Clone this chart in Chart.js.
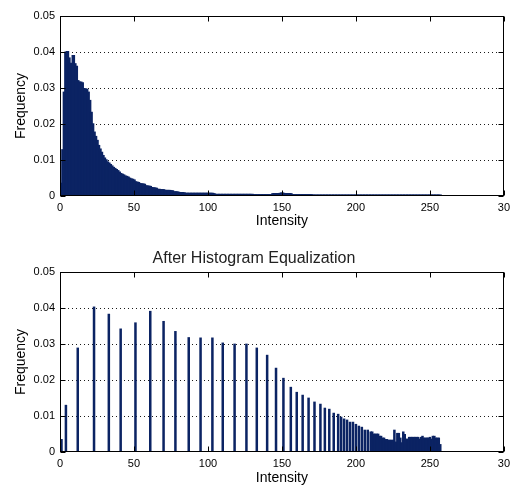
<!DOCTYPE html>
<html>
<head>
<meta charset="utf-8">
<script src="https://cdn.jsdelivr.net/npm/chart.js@4/dist/chart.umd.min.js"></script>
<style>
  html, body { margin: 0; padding: 0; background: #fff; overflow: hidden; }
  #wrap { position: relative; width: 515px; height: 485px; overflow: hidden; }
  canvas { position: absolute; left: 0; }
  #top { top: 0; }
  #bottom { top: 240px; }
</style>
</head>
<body>
<div id="wrap">
  <canvas id="top" width="515" height="240"></canvas>
  <canvas id="bottom" width="515" height="250"></canvas>
</div>
<script>
// original histogram, one value per intensity level starting at 0
const origFreq = [
  0.0003, 0.0037, 0.0130, 0.0290, 0.0401, 0.0403, 0.0385, 0.0370, 0.0356, 0.0392,
  0.0369, 0.0362, 0.0322, 0.0318, 0.0318, 0.0316, 0.0300, 0.0299, 0.0298, 0.0290,
  0.0267, 0.0234, 0.0202, 0.0179, 0.0167, 0.0156, 0.0142, 0.0132, 0.0123, 0.0114,
  0.0107, 0.0102, 0.0096, 0.0093, 0.0089, 0.0085, 0.0081, 0.0078, 0.0075, 0.0072,
  0.0068, 0.0064, 0.0062, 0.0060, 0.0057, 0.0056, 0.0054, 0.0051, 0.0049, 0.0048,
  0.0046, 0.0041, 0.0040, 0.0039, 0.0036, 0.0035, 0.0035, 0.0034, 0.0030, 0.0029,
  0.0029, 0.0028, 0.0025, 0.0024, 0.0024, 0.0023, 0.0020, 0.0020, 0.0019, 0.0019,
  0.0019, 0.0017, 0.0017, 0.0017, 0.0017, 0.0016, 0.0016, 0.0013, 0.0013, 0.0013,
  0.0012, 0.0011, 0.0011, 0.0011, 0.0010, 0.0009, 0.0009, 0.0009, 0.0009, 0.0009,
  0.0009, 0.0009, 0.0009, 0.0009, 0.0009, 0.0009, 0.0009, 0.0009, 0.0009, 0.0009,
  0.0009, 0.0009, 0.0009, 0.0009, 0.0008, 0.0006, 0.0006, 0.0006, 0.0006, 0.0006,
  0.0006, 0.0006, 0.0006, 0.0006, 0.0006, 0.0006, 0.0006, 0.0006, 0.0006, 0.0006,
  0.0006, 0.0006, 0.0006, 0.0006, 0.0006, 0.0006, 0.0006, 0.0006, 0.0006, 0.0006,
  0.0006, 0.0005, 0.0005, 0.0005, 0.0005, 0.0005, 0.0005, 0.0005, 0.0005, 0.0005,
  0.0005, 0.0005, 0.0005, 0.0005, 0.0008, 0.0008, 0.0008, 0.0008, 0.0008, 0.0009,
  0.0010, 0.0009, 0.0008, 0.0008, 0.0008, 0.0008, 0.0008, 0.0005, 0.0005, 0.0005,
  0.0005, 0.0005, 0.0005, 0.0005, 0.0005, 0.0005, 0.0005, 0.0005, 0.0005, 0.0005,
  0.0005, 0.0004, 0.0004, 0.0004, 0.0004, 0.0004, 0.0004, 0.0004, 0.0004, 0.0004,
  0.0004, 0.0004, 0.0004, 0.0004, 0.0004, 0.0004, 0.0004, 0.0004, 0.0004, 0.0004,
  0.0004, 0.0004, 0.0004, 0.0004, 0.0004, 0.0004, 0.0004, 0.0004, 0.0004, 0.0004,
  0.0004, 0.0004, 0.0004, 0.0004, 0.0004, 0.0004, 0.0004, 0.0004, 0.0004, 0.0004,
  0.0004, 0.0004, 0.0004, 0.0004, 0.0004, 0.0004, 0.0004, 0.0004, 0.0004, 0.0004,
  0.0004, 0.0004, 0.0004, 0.0004, 0.0004, 0.0004, 0.0004, 0.0004, 0.0004, 0.0004,
  0.0004, 0.0004, 0.0004, 0.0004, 0.0004, 0.0004, 0.0004, 0.0004, 0.0004, 0.0004,
  0.0004, 0.0004, 0.0004, 0.0004, 0.0004, 0.0004, 0.0004, 0.0004, 0.0004, 0.0004,
  0.0004, 0.0004, 0.0004, 0.0004, 0.0004, 0.0004, 0.0004, 0.0004
];

// equalized histogram: only the occupied levels
const eqLevels = [
  0, 1, 4, 12, 23, 33, 41, 51, 61, 70, 78, 87, 95, 103, 110, 118, 126, 133, 140, 146,
  151, 156, 160, 164, 168, 172, 176, 179, 182, 185, 188, 190, 192, 194, 196, 198, 200,
  202, 204, 206, 208, 210, 211, 212, 213, 214, 215, 216, 217, 218, 219, 220, 221, 222,
  223, 224, 225, 226, 227, 228, 229, 230, 231, 232, 233, 234, 235, 236, 237, 238, 239,
  240, 241, 242, 243, 244, 245, 246, 247, 248, 249, 250, 251, 252, 253, 254, 255, 256, 257
];
const eqFreq = [
  0.0004, 0.0036, 0.0131, 0.0290, 0.0404, 0.0384, 0.0343, 0.0360, 0.0392, 0.0364,
  0.0336, 0.0319, 0.0318, 0.0318, 0.0304, 0.0301, 0.0301, 0.0290, 0.0270, 0.0234,
  0.0206, 0.0181, 0.0167, 0.0159, 0.0151, 0.0140, 0.0134, 0.0123, 0.0120, 0.0109,
  0.0106, 0.0098, 0.0093, 0.0090, 0.0084, 0.0084, 0.0078, 0.0073, 0.0070, 0.0062,
  0.0062, 0.0057, 0.0057, 0.0051, 0.0051, 0.0051, 0.0051, 0.0045, 0.0045, 0.0040,
  0.0040, 0.0036, 0.0036, 0.0034, 0.0034, 0.0034, 0.0034, 0.0062, 0.0029, 0.0053,
  0.0053, 0.0040, 0.0027, 0.0057, 0.0050, 0.0037, 0.0037, 0.0042, 0.0042, 0.0042,
  0.0042, 0.0042, 0.0042, 0.0042, 0.0037, 0.0042, 0.0045, 0.0040, 0.0040, 0.0040,
  0.0040, 0.0042, 0.0037, 0.0045, 0.0045, 0.0040, 0.0040, 0.0040, 0.0022
];

const xTicks = [0, 50, 100, 150, 200, 250, 300];
const yTicks = [0, 0.01, 0.02, 0.03, 0.04, 0.05];

const BAR = "#0b2363";
Chart.defaults.font.family = "'Liberation Sans', Arial, sans-serif";
Chart.defaults.color = "#000";

// matlab style box with inward tick marks
const frame = {
  id: "frame",
  afterDatasetsDraw(chart) {
    const { ctx, chartArea: a, scales: { x, y } } = chart;
    const L = Math.round(a.left) + 0.5, R = Math.round(a.right) - 0.5;
    const T = Math.round(a.top) + 0.5, B = Math.round(a.bottom) - 0.5;
    ctx.save();
    ctx.strokeStyle = "#000";
    ctx.lineWidth = 1;
    ctx.beginPath();
    x.ticks.forEach((t) => {
      const px = Math.round(x.getPixelForValue(t.value)) + 0.5;
      ctx.moveTo(px, T); ctx.lineTo(px, T + 5);
      ctx.moveTo(px, B); ctx.lineTo(px, B - 5);
    });
    y.ticks.forEach((t) => {
      const py = Math.round(y.getPixelForValue(t.value)) + 0.5;
      ctx.moveTo(L, py); ctx.lineTo(L + 5, py);
      ctx.moveTo(R, py); ctx.lineTo(R - 5, py);
    });
    ctx.stroke();
    ctx.strokeRect(L, T, R - L, B - T);
    ctx.restore();
  },
};

function makeChart(canvas, points, opts) {
  return new Chart(canvas.getContext("2d"), {
    type: "bar",
    data: {
      datasets: [{
        data: points,
        backgroundColor: BAR,
        borderWidth: 0,
        categoryPercentage: 1,
        // wider than the 1.5px step so neighbours close up without seams
        barPercentage: opts.barPct,
        inflateAmount: 0,
      }],
    },
    options: {
      responsive: false,
      animation: false,
      layout: { padding: opts.padding },
      plugins: {
        legend: { display: false },
        tooltip: { enabled: false },
        title: opts.title,
      },
      scales: {
        x: {
          type: "linear",
          min: 0,
          max: 300,
          offset: false,
          afterBuildTicks: (s) => { s.ticks = xTicks.map((v) => ({ value: v })); },
          afterFit: (s) => { s.height = opts.xHeight; },
          ticks: {
            font: { size: 11 },
            padding: 5,
            // the figure edge cuts the last label to "30"
            callback: (v) => (v === 300 ? "30" : String(v)),
          },
          grid: { display: false, drawTicks: false },
          border: { display: false },
          title: {
            display: true,
            text: "Intensity",
            font: { size: 14 },
            padding: { top: 0, bottom: opts.xTitlePad },
          },
        },
        y: {
          min: 0,
          max: 0.05,
          afterBuildTicks: (s) => { s.ticks = yTicks.map((v) => ({ value: v })); },
          afterFit: (s) => { s.width = 60; },
          ticks: {
            font: { size: 11 },
            padding: 5,
            callback: (v) => (v === 0 ? "0" : v.toFixed(2)),
          },
          grid: {
            drawTicks: false,
            color: (c) => (c.tick && c.tick.value > 0 && c.tick.value < 0.05 ? "#1a1a1a" : "rgba(0,0,0,0)"),
          },
          border: { display: false, dash: [1, 3] },
          title: {
            display: true,
            text: "Frequency",
            font: { size: 14 },
            padding: { top: 13, bottom: 0 },
          },
        },
      },
    },
    plugins: [frame],
  });
}

makeChart(
  document.getElementById("top"),
  origFreq.map((v, i) => ({ x: i, y: v })),
  {
    padding: { top: 16, right: 7, left: 0, bottom: 0 },
    xHeight: 44,
    xTitlePad: 10,
    barPct: 2.4,
    title: { display: false },
  }
);

makeChart(
  document.getElementById("bottom"),
  eqLevels.map((lv, i) => ({ x: lv, y: eqFreq[i] })),
  {
    padding: { top: 0, right: 7, left: 0, bottom: 0 },
    xHeight: 38,
    xTitlePad: 3.4,
    barPct: 1.7,
    title: {
      display: true,
      text: "After Histogram Equalization",
      color: "#222",
      font: { size: 16, weight: "normal" },
      padding: { top: 9, bottom: 3.8 },
    },
  }
);
</script>
</body>
</html>
